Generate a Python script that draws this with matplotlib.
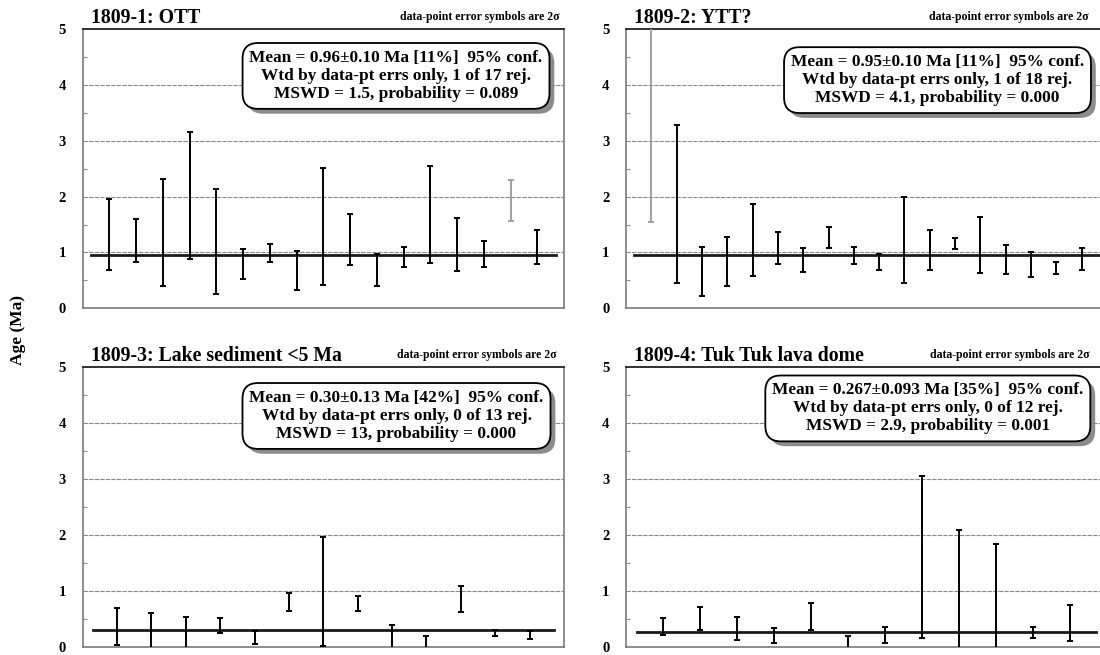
import matplotlib
matplotlib.use("Agg")
import matplotlib.pyplot as plt
import matplotlib.patheffects as pe
import numpy as np

plt.rcParams['font.family'] = ['Liberation Serif', 'DejaVu Serif']
plt.rcParams['font.weight'] = 'bold'

# ---- data (2-sigma error bar limits, Ma) ----
titles = ["1809-1: OTT", "1809-2: YTT?", "1809-3: Lake sediment <5 Ma", "1809-4: Tuk Tuk lava dome"]

lo1 = [0.685, 0.827, 0.40, 0.887, 0.26, 0.524, 0.833, 0.333, 0.423, 0.768, 0.393, 0.732, 0.815, 0.673, 0.738, 1.56, 0.80]
hi1 = [1.958, 1.60, 2.31, 3.15, 2.13, 1.054, 1.143, 1.018, 2.506, 1.69, 0.97, 1.095, 2.554, 1.619, 1.196, 2.29, 1.405]
rej1 = [0, 0, 0, 0, 0, 0, 0, 0, 0, 0, 0, 0, 0, 0, 0, 1, 0]
mean1 = 0.96

lo2 = [1.55, 0.446, 0.226, 0.405, 0.583, 0.792, 0.655, 1.083, 0.786, 0.679, 0.458, 0.679, 1.06, 0.625, 0.607, 0.565, 0.62, 0.679]
hi2 = [6.0, 3.29, 1.089, 1.274, 1.863, 1.363, 1.083, 1.458, 1.089, 0.97, 1.994, 1.393, 1.25, 1.637, 1.137, 1.0, 0.82, 1.083]
rej2 = [1, 0, 0, 0, 0, 0, 0, 0, 0, 0, 0, 0, 0, 0, 0, 0, 0, 0]
mean2 = 0.95

lo3 = [0.036, -0.05, -0.05, 0.251, 0.06, 0.635, 0.012, 0.647, -0.05, -0.05, 0.623, 0.198, 0.138]
hi3 = [0.689, 0.611, 0.545, 0.521, 0.281, 0.97, 1.964, 0.91, 0.395, 0.19, 1.096, 0.305, 0.281]
rej3 = [0] * 13
mean3 = 0.30

lo4 = [0.22, 0.31, 0.12, 0.072, 0.31, -0.05, 0.072, 0.167, -0.05, -0.05, 0.155, 0.10]
hi4 = [0.52, 0.71, 0.537, 0.346, 0.782, 0.197, 0.358, 3.06, 2.096, 1.84, 0.364, 0.752]
rej4 = [0] * 12
mean4 = 0.267

boxes = [
    "Mean = 0.96\u00b10.10 Ma [11%]  95% conf.\nWtd by data-pt errs only, 1 of 17 rej.\nMSWD = 1.5, probability = 0.089",
    "Mean = 0.95\u00b10.10 Ma [11%]  95% conf.\nWtd by data-pt errs only, 1 of 18 rej.\nMSWD = 4.1, probability = 0.000",
    "Mean = 0.30\u00b10.13 Ma [42%]  95% conf.\nWtd by data-pt errs only, 0 of 13 rej.\nMSWD = 13, probability = 0.000",
    "Mean = 0.267\u00b10.093 Ma [35%]  95% conf.\nWtd by data-pt errs only, 0 of 12 rej.\nMSWD = 2.9, probability = 0.001",
]
note = "data-point error symbols are 2\u03c3"
yticks = [0, 1, 2, 3, 4, 5]

panels = [(lo1, hi1, rej1, mean1), (lo2, hi2, rej2, mean2), (lo3, hi3, rej3, mean3), (lo4, hi4, rej4, mean4)]

W, H = 1100, 655
fig = plt.figure(figsize=(11, 6.55), dpi=100)

ax_pos = [(82.7, 29, 564, 308.3), (626, 29, 1107, 308.3),
          (82.7, 367.3, 564, 647), (626, 367.3, 1107, 647)]
box_pos = [(0.651, 0.832), (0.6476, 0.817), (0.652, 0.826), (0.6275, 0.853)]
note_x = [0.99, 0.962, 0.985, 0.964]

for i, (lo, hi, rej, mean) in enumerate(panels):
    x0, y0, x1, y1 = ax_pos[i]
    ax = fig.add_axes([x0 / W, 1 - y1 / H, (x1 - x0) / W, (y1 - y0) / H])
    n = len(lo)
    xs = np.arange(1, n + 1)
    lo = np.array(lo); hi = np.array(hi); rej = np.array(rej, bool)
    ax.set_xlim(0, n + 1)
    ax.set_ylim(0, 5)
    for yv in [1, 2, 3, 4]:
        ax.axhline(yv, color='#8a8a8a', lw=0.8, ls=(0, (4, 1)), zorder=1)
    # mean line
    ax.plot([0.3, n + 0.7], [mean, mean], color='#1a1a1a', lw=2.0, zorder=2)
    for ok, col in [(~rej, 'black'), (rej, '#a0a0a0')]:
        if ok.any():
            mid = (lo[ok] + hi[ok]) / 2
            err = (hi[ok] - lo[ok]) / 2
            ax.errorbar(xs[ok], mid, yerr=err, fmt='none', ecolor=col,
                        elinewidth=1.4, capsize=2.2, capthick=1.4, zorder=3)
    ax.set_yticks(yticks)
    ax.set_yticklabels([str(t) for t in yticks], fontsize=10.5, fontweight='bold')
    ax.set_yticks(np.arange(0.5, 5, 1.0), minor=True)
    ax.tick_params(axis='y', which='major', length=0, pad=12)
    ax.tick_params(axis='y', which='minor', length=3, direction='in', color='#8a8a8a', width=0.8)
    ax.set_xticks([])
    for s in ['left', 'right', 'bottom']:
        ax.spines[s].set_color('#7a7a7a')
        ax.spines[s].set_linewidth(1.2)
    ax.spines['top'].set_color('#202020')
    ax.spines['top'].set_linewidth(1.3)
    ax.text(0.017, 1.0226, titles[i], transform=ax.transAxes, fontsize=14.2,
            fontweight='bold', ha='left', va='baseline')
    ax.text(note_x[i], 1.034, note, transform=ax.transAxes, fontsize=8.5,
            fontweight='bold', ha='right', va='baseline')
    t = ax.text(box_pos[i][0], box_pos[i][1], boxes[i], transform=ax.transAxes,
                fontsize=12.4, fontweight='bold', ha='center', va='center',
                multialignment='center', linespacing=1.17, zorder=6,
                bbox=dict(boxstyle='round,pad=0.4,rounding_size=0.9', fc='white',
                          ec='black', lw=1.3))
    t.get_bbox_patch().set_path_effects([
        pe.SimplePatchShadow(offset=(3.5, -3.5), shadow_rgbFace='#808080', alpha=0.9),
        pe.Normal()])

fig.text(18 / W, 1 - 330 / H, "Age (Ma)", rotation=90, fontsize=12.5,
         fontweight='bold', ha='center', va='center')

fig.savefig("out.png", dpi=100)
